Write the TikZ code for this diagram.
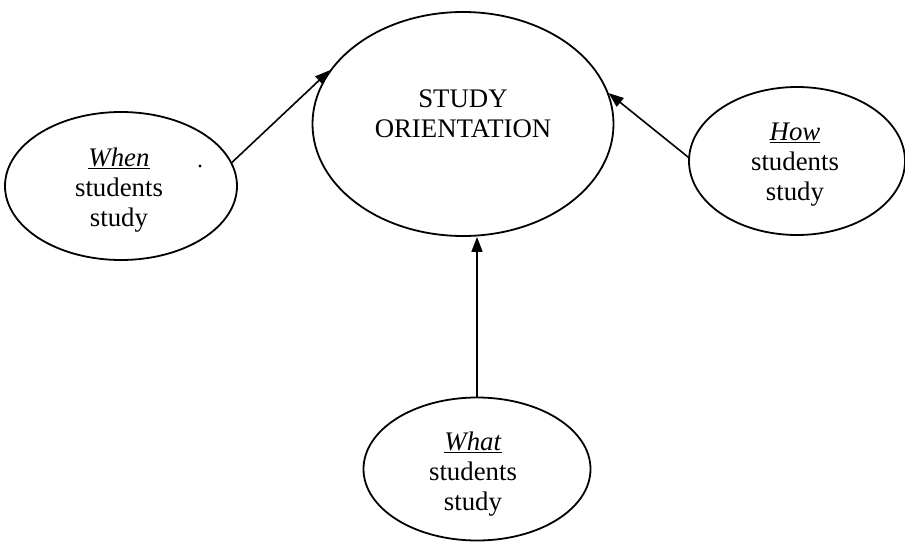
\documentclass[tikz,border=0pt]{standalone}
\usepackage{fontspec}
\setmainfont{Liberation Serif}
\usetikzlibrary{shapes.geometric,arrows.meta}
\begin{document}
\begin{tikzpicture}[x=1pt,y=-1pt,
  oval/.style={draw=black,line width=1.8pt,ellipse,inner sep=0pt},
  lbl/.style={align=center,inner sep=0pt,font=\fontsize{26.8}{30}\selectfont},
  arr/.style={line width=1.6pt,-{Triangle[length=15pt,width=11pt]}}]
\useasboundingbox (0,0) rectangle (905,541);
\node[oval,minimum width=301pt,minimum height=224pt] (so) at (463,124) {};
\node[lbl] (sot) at (463,114) {STUDY\\ORIENTATION};
\node[oval,minimum width=232pt,minimum height=148pt] (when) at (121,186) {};
\node[lbl] (whent) at (119,190) {\underline{\textit{When}}\\students\\study};
\node[oval,minimum width=216pt,minimum height=148pt] (how) at (797,161) {};
\node[lbl] (howt) at (795,165) {\underline{\textit{How}}\\students\\study};
\node[oval,minimum width=227pt,minimum height=143pt] (what) at (477,469) {};
\node[lbl] (whatt) at (473,474) {\underline{\textit{What}}\\students\\study};
\draw[arr] (when.12) -- (so.158.6);
\draw[arr] (how.178) -- (so.12.4);
\draw[arr] (what.north) -- (what.north |- so.south);
\fill (200,166) circle (1.6pt);
\end{tikzpicture}
\end{document}
